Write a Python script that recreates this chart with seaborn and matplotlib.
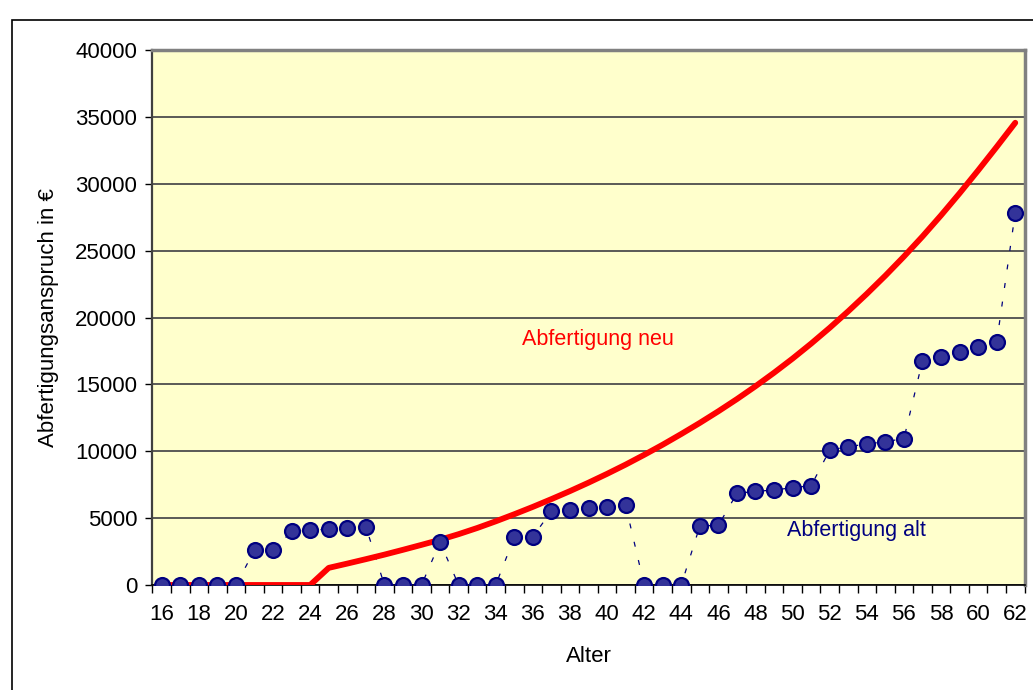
import numpy as np
import pandas as pd
import matplotlib
matplotlib.use("Agg")
import matplotlib.pyplot as plt
import seaborn as sns
from matplotlib.patches import Rectangle

# Alter (Jahre)
ages = list(range(16, 63))

# Abfertigung alt (Euro) je Alter
alt = [0, 0, 0, 0, 0,
       2600, 2600,
       4000, 4080, 4180, 4280, 4360,
       0, 0, 0,
       3200,
       0, 0, 0,
       3560, 3600,
       5530, 5630, 5730, 5830, 5960,
       0, 0, 0,
       4410, 4460,
       6850, 7000, 7100, 7275, 7425,
       10090, 10340, 10540, 10720, 10940,
       16770, 17070, 17440, 17790, 18170,
       27840]

# Abfertigung neu (Euro) je Alter
neu = [0, 0, 0, 0, 0, 0, 0, 0, 0,
       1280, 1600, 1930, 2270, 2630, 3000, 3380,
       3800, 4260, 4760, 5290, 5840, 6420, 7020, 7650,
       8310, 9000, 9730, 10490, 11290, 12120, 12990, 13900,
       14860, 15870, 16930, 18050, 19230, 20470, 21770, 23130,
       24560, 26060, 27640, 29290, 31000, 32760, 34560]

y_ticks = [0, 5000, 10000, 15000, 20000, 25000, 30000, 35000, 40000]
x_labels = list(range(16, 63, 2))

df = pd.DataFrame({"Alter": ages, "alt": alt, "neu": neu})

sns.set_theme(style="white")
plt.rcParams["font.family"] = ["Liberation Sans", "DejaVu Sans"]
for key in ["text.color", "axes.labelcolor", "xtick.color", "ytick.color"]:
    plt.rcParams[key] = "black"

TICK_FS = 16
TEXT_FS = 15.5

fig = plt.figure(figsize=(10.33, 6.90), dpi=100)
ax = fig.add_axes([0.1476, 0.1522, 0.8442, 0.7753])
ax.set_facecolor("#FFFFCC")

# outer chart frame
fig.patches.append(Rectangle((12 / 1033, -0.05), 1.2, 1 - 20 / 690 + 0.05,
                             transform=fig.transFigure, fill=False,
                             edgecolor="black", linewidth=1.2, zorder=0))

navy = "#000080"
sns.lineplot(data=df, x="Alter", y="alt", ax=ax, color=navy, linewidth=0.9,
             linestyle=(0, (4, 11)), zorder=3)
sns.lineplot(data=df, x="Alter", y="neu", ax=ax, color="#FF0000", linewidth=4.2,
             zorder=4, solid_capstyle="round", solid_joinstyle="round")
sns.scatterplot(data=df, x="Alter", y="alt", ax=ax, s=115, color="#333399",
                edgecolor=navy, linewidth=1.6, zorder=5)

ax.set_xlim(ages[0] - 0.5, ages[-1] + 0.5)
ax.set_ylim(y_ticks[0], y_ticks[-1])
ax.set_yticks(y_ticks)
ax.set_yticklabels([str(v) for v in y_ticks], fontsize=TICK_FS)
ax.set_xticks(x_labels)
ax.set_xticklabels([str(v) for v in x_labels], fontsize=TICK_FS)
ax.set_xticks(np.arange(ages[0] - 0.5, ages[-1] + 1.0, 1.0), minor=True)
ax.tick_params(axis="x", which="major", length=0, pad=14)
ax.tick_params(axis="x", which="minor", length=6, width=1, color="black",
               direction="out", bottom=True)
ax.tick_params(axis="y", which="major", length=5, width=1, color="black",
               direction="out", left=True, pad=6)

ax.grid(axis="y", color="#4D4D4D", linewidth=1.3, zorder=1)
ax.grid(axis="x", visible=False)
ax.set_axisbelow(True)

for side in ["top", "right"]:
    ax.spines[side].set_color("#808080")
    ax.spines[side].set_linewidth(2.5)
ax.spines["left"].set_color("#404040")
ax.spines["left"].set_linewidth(1.6)
ax.spines["bottom"].set_color("black")
ax.spines["bottom"].set_linewidth(1.2)

ax.set_xlabel("Alter", fontsize=16, va="center")
ax.set_ylabel("Abfertigungsanspruch in €", fontsize=16, va="center")
ax.xaxis.set_label_coords(0.5, (585 - 657) / 535)
ax.yaxis.set_label_coords((48 - 152.5) / 872.5, 0.5)

ax.text(39.5, 18390, "Abfertigung neu", color="#FF0000", fontsize=TEXT_FS,
        ha="center", va="center", zorder=6)
ax.text(53.43, 4040, "Abfertigung alt", color=navy, fontsize=TEXT_FS,
        ha="center", va="center", zorder=6)

fig.savefig("out.png", dpi=100)
